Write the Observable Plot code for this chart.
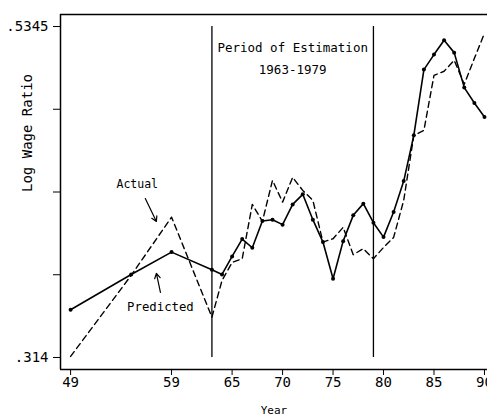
<!DOCTYPE html>
<html>
<head>
<meta charset="utf-8">
<script src="https://cdn.jsdelivr.net/npm/d3@7"></script>
<script src="https://cdn.jsdelivr.net/npm/@observablehq/plot@0.6"></script>
<style>
  html, body { margin: 0; padding: 0; background: #fff; }
  svg { display: block; }
</style>
</head>
<body>
<div id="chart"></div>
<script>
// Years (19xx)
const years = [49, 55, 59, 63, 64, 65, 66, 67, 68, 69, 70, 71, 72, 73, 74, 75, 76, 77, 78, 79, 80, 81, 82, 83, 84, 85, 86, 87, 88, 89, 90];
// Actual log wage ratio (solid line with dots)
const actual = [0.3458, 0.3693, 0.3842, 0.3725, 0.3693, 0.3813, 0.3929, 0.3871, 0.4049, 0.4058, 0.4025, 0.4160, 0.4227, 0.4058, 0.3909, 0.3665, 0.3915, 0.4087, 0.4165, 0.4038, 0.3942, 0.4109, 0.4315, 0.4620, 0.5058, 0.5158, 0.5253, 0.5171, 0.4938, 0.4835, 0.4742];
// Predicted log wage ratio (dashed line)
const predicted = [0.3147, 0.3687, 0.4075, 0.3409, 0.3653, 0.3773, 0.3798, 0.4160, 0.4047, 0.4320, 0.4175, 0.4340, 0.4253, 0.4187, 0.3909, 0.3931, 0.4007, 0.3825, 0.3865, 0.3798, 0.3873, 0.3940, 0.4187, 0.4620, 0.4653, 0.5020, 0.5047, 0.5120, 0.4960, 0.5133, 0.5300];
// Axis ticks
const xTicks = [49, 59, 65, 70, 75, 80, 85, 90];
const yTicks = [0.314, 0.369125, 0.42425, 0.479375, 0.5345];
const yTickLabels = [".314", "", "", "", ".5345"];
// Estimation period boundaries
const periodBounds = [63, 79];

const rows = years.map((yr, i) => ({year: yr, actual: actual[i], predicted: predicted[i]}));

const xDomain = [48.0, 90.3];
const yDomain = [0.306, 0.5425];
const font = "DejaVu Sans Mono, monospace";

const chart = Plot.plot({
  width: 487,
  height: 414,
  marginLeft: 60,
  marginRight: 0,
  marginTop: 14,
  marginBottom: 45,
  style: {fontFamily: font, background: "white", color: "black"},
  x: {domain: xDomain},
  y: {domain: yDomain},
  marks: [
    // frame: left, top, bottom
    Plot.ruleX([xDomain[0]], {stroke: "black", strokeWidth: 1.5}),
    Plot.ruleY([yDomain[0]], {stroke: "black", strokeWidth: 1.5}),
    Plot.ruleY([yDomain[1]], {stroke: "black", strokeWidth: 1.5}),
    Plot.axisX({ticks: xTicks, tickSize: 6, tickPadding: 2, fontSize: 14, tickFormat: d => String(d), label: null, stroke: "black"}),
    Plot.axisY({ticks: yTicks, tickSize: 7, tickPadding: 5, fontSize: 14, tickFormat: (d, i) => yTickLabels[yTicks.indexOf(d)], label: null, stroke: "black"}),
    Plot.text(["Log Wage Ratio"], {frameAnchor: "left", dx: -33, rotate: -90, fontSize: 14, fill: "black"}),
    Plot.text(["Year"], {frameAnchor: "bottom", dy: 44, fontSize: 11, fill: "black"}),
    // estimation period
    Plot.ruleX(periodBounds, {y1: yTicks[0], y2: yTicks[4], stroke: "black", strokeWidth: 1.3}),
    Plot.text(["Period of Estimation"], {x: 71, y: 0.5199, fontSize: 12.5, fill: "black"}),
    Plot.text(["1963-1979"], {x: 71, y: 0.5052, fontSize: 12.5, fill: "black"}),
    // series
    Plot.line(rows, {x: "year", y: "predicted", stroke: "black", strokeWidth: 1.4, strokeDasharray: "6,4"}),
    Plot.line(rows, {x: "year", y: "actual", stroke: "black", strokeWidth: 1.6}),
    Plot.dot(rows, {x: "year", y: "actual", r: 2, fill: "black"}),
    // annotations
    Plot.text(["Actual"], {x: 55.6, y: 0.4293, fontSize: 11.5, fill: "black"}),
    Plot.arrow([0], {x1: 56.4, y1: 0.4199, x2: 57.5, y2: 0.4046, stroke: "black", strokeWidth: 1.2, headLength: 7}),
    Plot.text(["Predicted"], {x: 57.9, y: 0.3473, fontSize: 12.3, fill: "black"}),
    Plot.arrow([0], {x1: 57.9, y1: 0.3573, x2: 57.5, y2: 0.3700, stroke: "black", strokeWidth: 1.2, headLength: 7})
  ]
});
document.getElementById("chart").appendChild(chart);
</script>
</body>
</html>
